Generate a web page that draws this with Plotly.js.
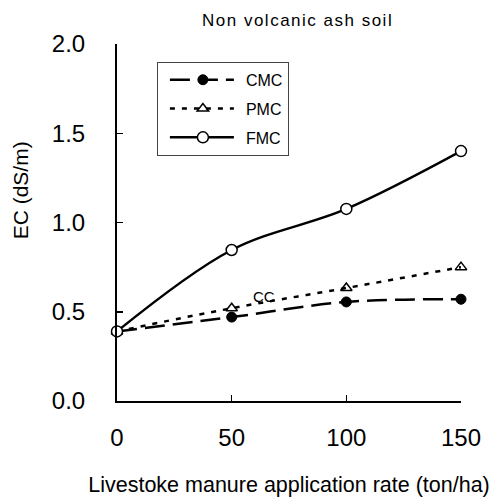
<!DOCTYPE html>
<html>
<head>
<meta charset="utf-8">
<script src="https://cdn.plot.ly/plotly-3.0.1.min.js"></script>
<style>
html,body{margin:0;padding:0;background:#fff;}
#chart{width:494px;height:503px;}
.gtitle{letter-spacing:1.5px;}
</style>
</head>
<body>
<div id="chart"></div>
<script>
const rates = [0, 50, 100, 150];
const cmc = [0.39, 0.47, 0.555, 0.57];
const pmc = [0.39, 0.52, 0.633, 0.75];
const fmc = [0.39, 0.846, 1.076, 1.40];
const seriesNames = ['CMC', 'PMC', 'FMC'];
const xTicks = [0, 50, 100, 150];
const yTicks = [0, 0.5, 1, 1.5, 2];
const yTickLabels = ['0.0', '0.5', '1.0', '1.5', '2.0'];

const font = 'Liberation Sans, Arial, sans-serif';
const traces = [
  {x: rates, y: cmc, name: seriesNames[0], mode: 'lines+markers', legendgroup: 'a',
   line: {color: '#000', width: 2.5, dash: '20px,8px', shape: 'spline'},
   marker: {symbol: 'circle', size: 10, color: '#000', line: {color: '#000', width: 1}}, cliponaxis: false},
  {x: rates, y: pmc, name: seriesNames[1], mode: 'lines+markers', legendgroup: 'b',
   line: {color: '#000', width: 2.5, dash: '5px,7px', shape: 'spline'},
   marker: {symbol: 'triangle-up-open', size: 10, color: '#000', line: {color: '#000', width: 1.5}}, cliponaxis: false},
  {x: rates, y: fmc, name: seriesNames[2], mode: 'lines+markers', legendgroup: 'c',
   line: {color: '#000', width: 2.5, shape: 'spline'},
   marker: {symbol: 'circle', size: 11, color: '#fff', line: {color: '#000', width: 1.5}}, cliponaxis: false}
];

const layout = {
  width: 494, height: 503,
  margin: {l: 117, r: 33, t: 44, b: 102},
  paper_bgcolor: '#fff', plot_bgcolor: '#fff',
  font: {family: font, color: '#000'},
  title: {text: 'Non volcanic ash soil', font: {size: 17, family: font, color: '#000'},
          xref: 'paper', x: 0.525, xanchor: 'center', yref: 'container', y: 0.96, yanchor: 'middle'},
  xaxis: {range: [0, 150], tickvals: xTicks, ticks: 'inside', ticklen: 6, tickwidth: 1.5, tickcolor: '#000',
          showline: true, linecolor: '#000', linewidth: 2, showgrid: false, zeroline: false,
          tickfont: {size: 24, family: font, color: '#000'}, ticklabelstandoff: 14,
          title: {text: 'Livestoke manure application rate (ton/ha)', font: {size: 21.5, family: font, color: '#000'}, standoff: 27}},
  yaxis: {range: [0, 2], tickvals: yTicks, ticktext: yTickLabels, ticks: 'inside', ticklen: 6, tickwidth: 1.5, tickcolor: '#000',
          showline: true, linecolor: '#000', linewidth: 2, showgrid: false, zeroline: false,
          tickfont: {size: 24, family: font, color: '#000'}, ticklabelstandoff: 25},
  showlegend: true,
  legend: {x: 0.116, y: 0.95, xanchor: 'left', yanchor: 'top', bgcolor: '#fff', bordercolor: '#444', borderwidth: 1,
           font: {size: 16, family: font, color: '#000'}, tracegroupgap: 5, itemwidth: 78},
  annotations: [
    {x: 64, y: 0.585, xref: 'x', yref: 'y', text: 'CC', showarrow: false, font: {size: 15, family: font, color: '#000'}},
    {x: -0.282, y: 0.59, xref: 'paper', yref: 'paper', text: 'EC (dS/m)', textangle: -90, showarrow: false,
     xanchor: 'center', yanchor: 'middle', font: {size: 21, family: font, color: '#000'}}
  ]
};

Plotly.newPlot('chart', traces, layout, {displayModeBar: false, staticPlot: true}).then(function (gd) {
  // lengthen the legend line samples to match the reference key
  gd.querySelectorAll('.legend .legendlines path').forEach(function (p) { p.setAttribute('d', 'M12,0h64'); });
  gd.querySelectorAll('.legend .legendpoints path').forEach(function (p) { p.setAttribute('transform', 'translate(45,0)'); });
});
</script>
</body>
</html>
